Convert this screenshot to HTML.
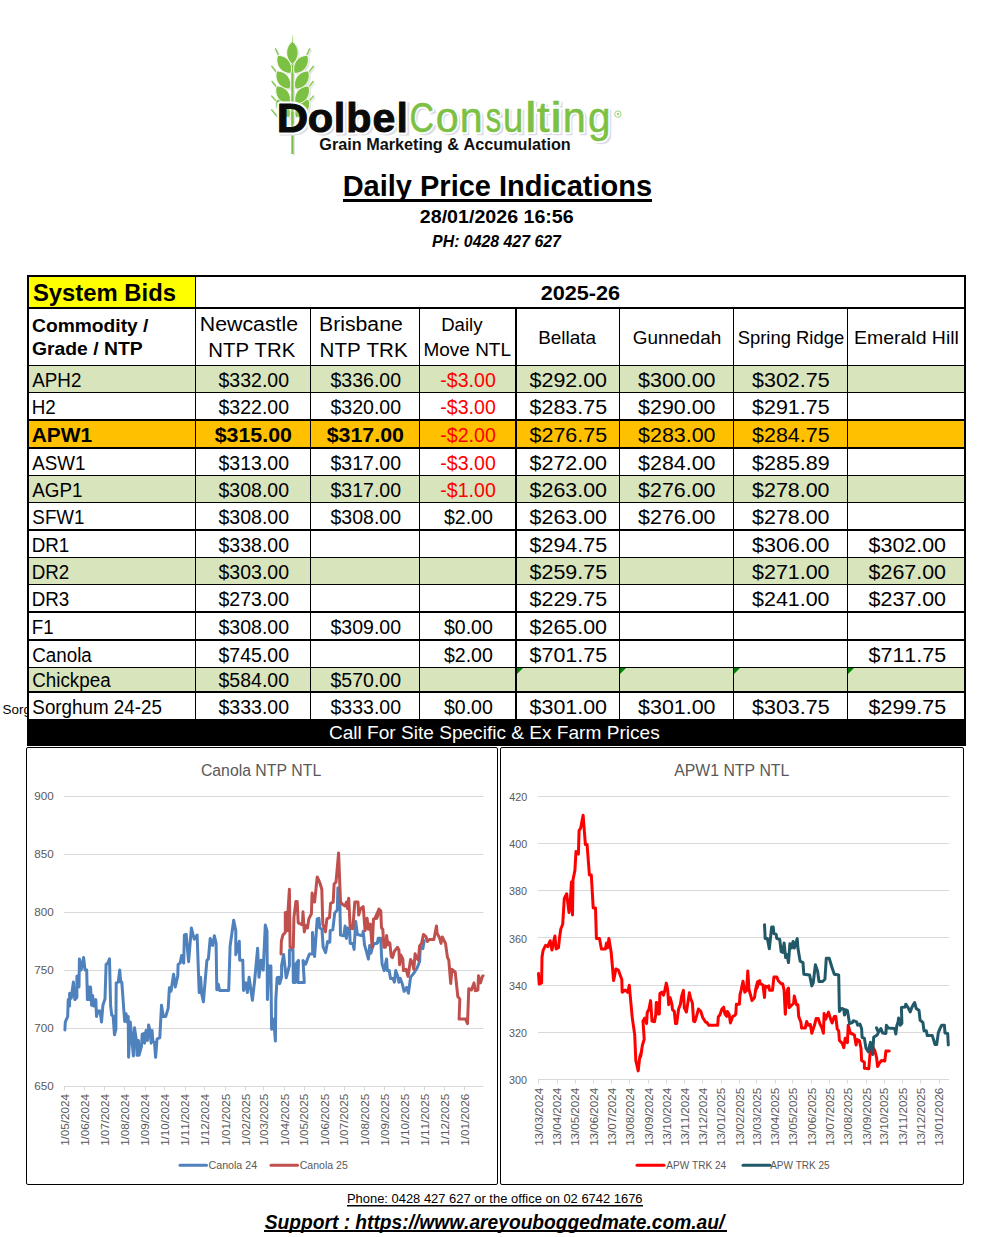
<!DOCTYPE html>
<html><head><meta charset="utf-8"><title>Daily Price Indications</title>
<style>
html,body{margin:0;padding:0;background:#fff;width:996px;height:1237px;overflow:hidden}
svg text{font-family:"Liberation Sans",sans-serif;font-kerning:none}
</style></head><body>
<svg width="996" height="1237" viewBox="0 0 996 1237" style="position:absolute;left:0;top:0">
<rect x="0" y="0" width="996" height="1237" fill="#fff"/>
<g transform="translate(1.5 1.5)">
<rect x="291.3" y="58" width="2.2" height="96" fill="#e4e4e8"/>
<path d="M292.4 33.5 L293.2 46 L291.6 46 Z" fill="#e8e8ec"/>
<line x1="275.50" y1="48.90" x2="279.50" y2="57.50" stroke="#e8e8ec" stroke-width="1.6" stroke-linecap="round"/>
<line x1="309.70" y1="48.90" x2="305.70" y2="57.50" stroke="#e8e8ec" stroke-width="1.6" stroke-linecap="round"/>
<line x1="271.80" y1="66.30" x2="277.00" y2="73.00" stroke="#e8e8ec" stroke-width="1.6" stroke-linecap="round"/>
<line x1="313.40" y1="66.30" x2="308.20" y2="73.00" stroke="#e8e8ec" stroke-width="1.6" stroke-linecap="round"/>
<line x1="272.20" y1="81.50" x2="277.00" y2="88.00" stroke="#e8e8ec" stroke-width="1.6" stroke-linecap="round"/>
<line x1="313.00" y1="81.50" x2="308.20" y2="88.00" stroke="#e8e8ec" stroke-width="1.6" stroke-linecap="round"/>
<line x1="271.80" y1="96.20" x2="277.00" y2="102.00" stroke="#e8e8ec" stroke-width="1.6" stroke-linecap="round"/>
<line x1="313.40" y1="96.20" x2="308.20" y2="102.00" stroke="#e8e8ec" stroke-width="1.6" stroke-linecap="round"/>
<line x1="271.80" y1="109.90" x2="278.00" y2="117.50" stroke="#e8e8ec" stroke-width="1.6" stroke-linecap="round"/>
<line x1="313.40" y1="109.90" x2="307.20" y2="117.50" stroke="#e8e8ec" stroke-width="1.6" stroke-linecap="round"/>
<path d="M0 -11.25 C8.00 -5.62 8.00 5.62 0 11.25 C-8.00 5.62 -8.00 -5.62 0 -11.25Z" transform="translate(283.00 108.50) rotate(-36)" fill="#e4e4e8"/>
<path d="M0 -11.25 C8.00 -5.62 8.00 5.62 0 11.25 C-8.00 5.62 -8.00 -5.62 0 -11.25Z" transform="translate(302.20 108.50) rotate(36)" fill="#e4e4e8"/>
<path d="M0 -11.25 C8.00 -5.62 8.00 5.62 0 11.25 C-8.00 5.62 -8.00 -5.62 0 -11.25Z" transform="translate(283.10 95.00) rotate(-36)" fill="#e4e4e8"/>
<path d="M0 -11.25 C8.00 -5.62 8.00 5.62 0 11.25 C-8.00 5.62 -8.00 -5.62 0 -11.25Z" transform="translate(302.10 95.00) rotate(36)" fill="#e4e4e8"/>
<path d="M0 -11.25 C8.00 -5.62 8.00 5.62 0 11.25 C-8.00 5.62 -8.00 -5.62 0 -11.25Z" transform="translate(283.30 80.00) rotate(-36)" fill="#e4e4e8"/>
<path d="M0 -11.25 C8.00 -5.62 8.00 5.62 0 11.25 C-8.00 5.62 -8.00 -5.62 0 -11.25Z" transform="translate(301.90 80.00) rotate(36)" fill="#e4e4e8"/>
<path d="M0 -11.25 C8.00 -5.62 8.00 5.62 0 11.25 C-8.00 5.62 -8.00 -5.62 0 -11.25Z" transform="translate(284.20 64.40) rotate(-36)" fill="#e4e4e8"/>
<path d="M0 -11.25 C8.00 -5.62 8.00 5.62 0 11.25 C-8.00 5.62 -8.00 -5.62 0 -11.25Z" transform="translate(301.00 64.40) rotate(36)" fill="#e4e4e8"/>
<path d="M0 -11.50 C7.67 -5.75 7.67 5.75 0 11.50 C-7.67 5.75 -7.67 -5.75 0 -11.50Z" transform="translate(292.40 52.80) rotate(0)" fill="#e4e4e8"/>
</g>
<g transform="translate(0 0)">
<rect x="291.3" y="58" width="2.2" height="96" fill="#7CC143"/>
<path d="M292.4 33.5 L293.2 46 L291.6 46 Z" fill="#8fcb5c"/>
<line x1="275.50" y1="48.90" x2="279.50" y2="57.50" stroke="#8fcb5c" stroke-width="1.6" stroke-linecap="round"/>
<line x1="309.70" y1="48.90" x2="305.70" y2="57.50" stroke="#8fcb5c" stroke-width="1.6" stroke-linecap="round"/>
<line x1="271.80" y1="66.30" x2="277.00" y2="73.00" stroke="#8fcb5c" stroke-width="1.6" stroke-linecap="round"/>
<line x1="313.40" y1="66.30" x2="308.20" y2="73.00" stroke="#8fcb5c" stroke-width="1.6" stroke-linecap="round"/>
<line x1="272.20" y1="81.50" x2="277.00" y2="88.00" stroke="#8fcb5c" stroke-width="1.6" stroke-linecap="round"/>
<line x1="313.00" y1="81.50" x2="308.20" y2="88.00" stroke="#8fcb5c" stroke-width="1.6" stroke-linecap="round"/>
<line x1="271.80" y1="96.20" x2="277.00" y2="102.00" stroke="#8fcb5c" stroke-width="1.6" stroke-linecap="round"/>
<line x1="313.40" y1="96.20" x2="308.20" y2="102.00" stroke="#8fcb5c" stroke-width="1.6" stroke-linecap="round"/>
<line x1="271.80" y1="109.90" x2="278.00" y2="117.50" stroke="#8fcb5c" stroke-width="1.6" stroke-linecap="round"/>
<line x1="313.40" y1="109.90" x2="307.20" y2="117.50" stroke="#8fcb5c" stroke-width="1.6" stroke-linecap="round"/>
<path d="M0 -11.25 C8.00 -5.62 8.00 5.62 0 11.25 C-8.00 5.62 -8.00 -5.62 0 -11.25Z" transform="translate(283.00 108.50) rotate(-36)" fill="#7CC143" stroke="#f4faee" stroke-width="0.9"/>
<path d="M0 -11.25 C8.00 -5.62 8.00 5.62 0 11.25 C-8.00 5.62 -8.00 -5.62 0 -11.25Z" transform="translate(302.20 108.50) rotate(36)" fill="#7CC143" stroke="#f4faee" stroke-width="0.9"/>
<path d="M0 -11.25 C8.00 -5.62 8.00 5.62 0 11.25 C-8.00 5.62 -8.00 -5.62 0 -11.25Z" transform="translate(283.10 95.00) rotate(-36)" fill="#7CC143" stroke="#f4faee" stroke-width="0.9"/>
<path d="M0 -11.25 C8.00 -5.62 8.00 5.62 0 11.25 C-8.00 5.62 -8.00 -5.62 0 -11.25Z" transform="translate(302.10 95.00) rotate(36)" fill="#7CC143" stroke="#f4faee" stroke-width="0.9"/>
<path d="M0 -11.25 C8.00 -5.62 8.00 5.62 0 11.25 C-8.00 5.62 -8.00 -5.62 0 -11.25Z" transform="translate(283.30 80.00) rotate(-36)" fill="#7CC143" stroke="#f4faee" stroke-width="0.9"/>
<path d="M0 -11.25 C8.00 -5.62 8.00 5.62 0 11.25 C-8.00 5.62 -8.00 -5.62 0 -11.25Z" transform="translate(301.90 80.00) rotate(36)" fill="#7CC143" stroke="#f4faee" stroke-width="0.9"/>
<path d="M0 -11.25 C8.00 -5.62 8.00 5.62 0 11.25 C-8.00 5.62 -8.00 -5.62 0 -11.25Z" transform="translate(284.20 64.40) rotate(-36)" fill="#7CC143" stroke="#f4faee" stroke-width="0.9"/>
<path d="M0 -11.25 C8.00 -5.62 8.00 5.62 0 11.25 C-8.00 5.62 -8.00 -5.62 0 -11.25Z" transform="translate(301.00 64.40) rotate(36)" fill="#7CC143" stroke="#f4faee" stroke-width="0.9"/>
<path d="M0 -11.50 C7.67 -5.75 7.67 5.75 0 11.50 C-7.67 5.75 -7.67 -5.75 0 -11.50Z" transform="translate(292.40 52.80) rotate(0)" fill="#7CC143" stroke="#f4faee" stroke-width="0.9"/>
</g>
<text x="278.18" y="133.80" font-size="41" font-weight="bold" font-style="normal" fill="#dcdce2" textLength="32.62" lengthAdjust="spacingAndGlyphs" stroke="#dcdce2" stroke-width="3">D</text>
<text x="309.30" y="133.80" font-size="41" font-weight="bold" font-style="normal" fill="#dcdce2" textLength="26.60" lengthAdjust="spacingAndGlyphs" stroke="#dcdce2" stroke-width="3">o</text>
<text x="334.69" y="133.80" font-size="41" font-weight="bold" font-style="normal" fill="#dcdce2" textLength="13.57" lengthAdjust="spacingAndGlyphs" stroke="#dcdce2" stroke-width="3">l</text>
<text x="347.55" y="133.80" font-size="41" font-weight="bold" font-style="normal" fill="#dcdce2" textLength="26.43" lengthAdjust="spacingAndGlyphs" stroke="#dcdce2" stroke-width="3">b</text>
<text x="374.02" y="133.80" font-size="41" font-weight="bold" font-style="normal" fill="#dcdce2" textLength="23.95" lengthAdjust="spacingAndGlyphs" stroke="#dcdce2" stroke-width="3">e</text>
<text x="397.74" y="133.80" font-size="41" font-weight="bold" font-style="normal" fill="#dcdce2" textLength="12.96" lengthAdjust="spacingAndGlyphs" stroke="#dcdce2" stroke-width="3">l</text>
<text x="276.79" y="131.80" font-size="41" font-weight="bold" font-style="normal" fill="#fff" textLength="31.44" lengthAdjust="spacingAndGlyphs" stroke="#fff" stroke-width="5" stroke-linejoin="round">D</text>
<text x="307.87" y="131.80" font-size="41" font-weight="bold" font-style="normal" fill="#fff" textLength="25.46" lengthAdjust="spacingAndGlyphs" stroke="#fff" stroke-width="5" stroke-linejoin="round">o</text>
<text x="333.70" y="131.80" font-size="41" font-weight="bold" font-style="normal" fill="#fff" textLength="11.54" lengthAdjust="spacingAndGlyphs" stroke="#fff" stroke-width="5" stroke-linejoin="round">l</text>
<text x="346.18" y="131.80" font-size="41" font-weight="bold" font-style="normal" fill="#fff" textLength="25.21" lengthAdjust="spacingAndGlyphs" stroke="#fff" stroke-width="5" stroke-linejoin="round">b</text>
<text x="372.60" y="131.80" font-size="41" font-weight="bold" font-style="normal" fill="#fff" textLength="22.80" lengthAdjust="spacingAndGlyphs" stroke="#fff" stroke-width="5" stroke-linejoin="round">e</text>
<text x="396.75" y="131.80" font-size="41" font-weight="bold" font-style="normal" fill="#fff" textLength="10.93" lengthAdjust="spacingAndGlyphs" stroke="#fff" stroke-width="5" stroke-linejoin="round">l</text>
<clipPath id="dcounter"><rect x="286" y="107" width="14" height="20"/></clipPath>
<g clip-path="url(#dcounter)" opacity="0.85">
<g transform="translate(0 0)">
<rect x="291.3" y="58" width="2.2" height="96" fill="#7CC143"/>
<path d="M292.4 33.5 L293.2 46 L291.6 46 Z" fill="#8fcb5c"/>
<line x1="275.50" y1="48.90" x2="279.50" y2="57.50" stroke="#8fcb5c" stroke-width="1.6" stroke-linecap="round"/>
<line x1="309.70" y1="48.90" x2="305.70" y2="57.50" stroke="#8fcb5c" stroke-width="1.6" stroke-linecap="round"/>
<line x1="271.80" y1="66.30" x2="277.00" y2="73.00" stroke="#8fcb5c" stroke-width="1.6" stroke-linecap="round"/>
<line x1="313.40" y1="66.30" x2="308.20" y2="73.00" stroke="#8fcb5c" stroke-width="1.6" stroke-linecap="round"/>
<line x1="272.20" y1="81.50" x2="277.00" y2="88.00" stroke="#8fcb5c" stroke-width="1.6" stroke-linecap="round"/>
<line x1="313.00" y1="81.50" x2="308.20" y2="88.00" stroke="#8fcb5c" stroke-width="1.6" stroke-linecap="round"/>
<line x1="271.80" y1="96.20" x2="277.00" y2="102.00" stroke="#8fcb5c" stroke-width="1.6" stroke-linecap="round"/>
<line x1="313.40" y1="96.20" x2="308.20" y2="102.00" stroke="#8fcb5c" stroke-width="1.6" stroke-linecap="round"/>
<line x1="271.80" y1="109.90" x2="278.00" y2="117.50" stroke="#8fcb5c" stroke-width="1.6" stroke-linecap="round"/>
<line x1="313.40" y1="109.90" x2="307.20" y2="117.50" stroke="#8fcb5c" stroke-width="1.6" stroke-linecap="round"/>
<path d="M0 -11.25 C8.00 -5.62 8.00 5.62 0 11.25 C-8.00 5.62 -8.00 -5.62 0 -11.25Z" transform="translate(283.00 108.50) rotate(-36)" fill="#7CC143" stroke="#f4faee" stroke-width="0.9"/>
<path d="M0 -11.25 C8.00 -5.62 8.00 5.62 0 11.25 C-8.00 5.62 -8.00 -5.62 0 -11.25Z" transform="translate(302.20 108.50) rotate(36)" fill="#7CC143" stroke="#f4faee" stroke-width="0.9"/>
<path d="M0 -11.25 C8.00 -5.62 8.00 5.62 0 11.25 C-8.00 5.62 -8.00 -5.62 0 -11.25Z" transform="translate(283.10 95.00) rotate(-36)" fill="#7CC143" stroke="#f4faee" stroke-width="0.9"/>
<path d="M0 -11.25 C8.00 -5.62 8.00 5.62 0 11.25 C-8.00 5.62 -8.00 -5.62 0 -11.25Z" transform="translate(302.10 95.00) rotate(36)" fill="#7CC143" stroke="#f4faee" stroke-width="0.9"/>
<path d="M0 -11.25 C8.00 -5.62 8.00 5.62 0 11.25 C-8.00 5.62 -8.00 -5.62 0 -11.25Z" transform="translate(283.30 80.00) rotate(-36)" fill="#7CC143" stroke="#f4faee" stroke-width="0.9"/>
<path d="M0 -11.25 C8.00 -5.62 8.00 5.62 0 11.25 C-8.00 5.62 -8.00 -5.62 0 -11.25Z" transform="translate(301.90 80.00) rotate(36)" fill="#7CC143" stroke="#f4faee" stroke-width="0.9"/>
<path d="M0 -11.25 C8.00 -5.62 8.00 5.62 0 11.25 C-8.00 5.62 -8.00 -5.62 0 -11.25Z" transform="translate(284.20 64.40) rotate(-36)" fill="#7CC143" stroke="#f4faee" stroke-width="0.9"/>
<path d="M0 -11.25 C8.00 -5.62 8.00 5.62 0 11.25 C-8.00 5.62 -8.00 -5.62 0 -11.25Z" transform="translate(301.00 64.40) rotate(36)" fill="#7CC143" stroke="#f4faee" stroke-width="0.9"/>
<path d="M0 -11.50 C7.67 -5.75 7.67 5.75 0 11.50 C-7.67 5.75 -7.67 -5.75 0 -11.50Z" transform="translate(292.40 52.80) rotate(0)" fill="#7CC143" stroke="#f4faee" stroke-width="0.9"/>
</g>
</g>
<text x="276.79" y="131.80" font-size="41" font-weight="bold" font-style="normal" fill="#0a0a0a" textLength="31.44" lengthAdjust="spacingAndGlyphs" stroke="#0a0a0a" stroke-width="1" stroke-linejoin="round">D</text>
<text x="307.87" y="131.80" font-size="41" font-weight="bold" font-style="normal" fill="#0a0a0a" textLength="25.46" lengthAdjust="spacingAndGlyphs" stroke="#0a0a0a" stroke-width="1" stroke-linejoin="round">o</text>
<text x="333.70" y="131.80" font-size="41" font-weight="bold" font-style="normal" fill="#0a0a0a" textLength="11.54" lengthAdjust="spacingAndGlyphs" stroke="#0a0a0a" stroke-width="1" stroke-linejoin="round">l</text>
<text x="346.18" y="131.80" font-size="41" font-weight="bold" font-style="normal" fill="#0a0a0a" textLength="25.21" lengthAdjust="spacingAndGlyphs" stroke="#0a0a0a" stroke-width="1" stroke-linejoin="round">b</text>
<text x="372.60" y="131.80" font-size="41" font-weight="bold" font-style="normal" fill="#0a0a0a" textLength="22.80" lengthAdjust="spacingAndGlyphs" stroke="#0a0a0a" stroke-width="1" stroke-linejoin="round">e</text>
<text x="396.75" y="131.80" font-size="41" font-weight="bold" font-style="normal" fill="#0a0a0a" textLength="10.93" lengthAdjust="spacingAndGlyphs" stroke="#0a0a0a" stroke-width="1" stroke-linejoin="round">l</text>
<text x="411.23" y="134.00" font-size="42" font-weight="normal" font-style="normal" fill="#dcdce6" textLength="25.20" lengthAdjust="spacingAndGlyphs" stroke="#dcdce6" stroke-width="2.5">C</text>
<text x="437.31" y="134.00" font-size="42" font-weight="normal" font-style="normal" fill="#dcdce6" textLength="23.68" lengthAdjust="spacingAndGlyphs" stroke="#dcdce6" stroke-width="2.5">o</text>
<text x="461.37" y="134.00" font-size="42" font-weight="normal" font-style="normal" fill="#dcdce6" textLength="23.70" lengthAdjust="spacingAndGlyphs" stroke="#dcdce6" stroke-width="2.5">n</text>
<text x="487.40" y="134.00" font-size="42" font-weight="normal" font-style="normal" fill="#dcdce6" textLength="16.17" lengthAdjust="spacingAndGlyphs" stroke="#dcdce6" stroke-width="2.5">s</text>
<text x="504.54" y="134.00" font-size="42" font-weight="normal" font-style="normal" fill="#dcdce6" textLength="21.08" lengthAdjust="spacingAndGlyphs" stroke="#dcdce6" stroke-width="2.5">u</text>
<text x="525.96" y="134.00" font-size="42" font-weight="normal" font-style="normal" fill="#dcdce6" textLength="13.65" lengthAdjust="spacingAndGlyphs" stroke="#dcdce6" stroke-width="2.5">l</text>
<text x="538.47" y="134.00" font-size="42" font-weight="normal" font-style="normal" fill="#dcdce6" textLength="13.49" lengthAdjust="spacingAndGlyphs" stroke="#dcdce6" stroke-width="2.5">t</text>
<text x="551.19" y="134.00" font-size="42" font-weight="normal" font-style="normal" fill="#dcdce6" textLength="13.65" lengthAdjust="spacingAndGlyphs" stroke="#dcdce6" stroke-width="2.5">i</text>
<text x="564.35" y="134.00" font-size="42" font-weight="normal" font-style="normal" fill="#dcdce6" textLength="23.83" lengthAdjust="spacingAndGlyphs" stroke="#dcdce6" stroke-width="2.5">n</text>
<text x="589.54" y="134.00" font-size="42" font-weight="normal" font-style="normal" fill="#dcdce6" textLength="23.25" lengthAdjust="spacingAndGlyphs" stroke="#dcdce6" stroke-width="2.5">g</text>
<text x="409.58" y="132.00" font-size="42" font-weight="normal" font-style="normal" fill="#fff" textLength="24.52" lengthAdjust="spacingAndGlyphs" stroke="#fff" stroke-width="4" stroke-linejoin="round">C</text>
<text x="435.67" y="132.00" font-size="42" font-weight="normal" font-style="normal" fill="#fff" textLength="22.97" lengthAdjust="spacingAndGlyphs" stroke="#fff" stroke-width="4" stroke-linejoin="round">o</text>
<text x="459.76" y="132.00" font-size="42" font-weight="normal" font-style="normal" fill="#fff" textLength="22.91" lengthAdjust="spacingAndGlyphs" stroke="#fff" stroke-width="4" stroke-linejoin="round">n</text>
<text x="485.74" y="132.00" font-size="42" font-weight="normal" font-style="normal" fill="#fff" textLength="15.48" lengthAdjust="spacingAndGlyphs" stroke="#fff" stroke-width="4" stroke-linejoin="round">s</text>
<text x="502.93" y="132.00" font-size="42" font-weight="normal" font-style="normal" fill="#fff" textLength="20.29" lengthAdjust="spacingAndGlyphs" stroke="#fff" stroke-width="4" stroke-linejoin="round">u</text>
<text x="524.72" y="132.00" font-size="42" font-weight="normal" font-style="normal" fill="#fff" textLength="12.13" lengthAdjust="spacingAndGlyphs" stroke="#fff" stroke-width="4" stroke-linejoin="round">l</text>
<text x="536.80" y="132.00" font-size="42" font-weight="normal" font-style="normal" fill="#fff" textLength="12.84" lengthAdjust="spacingAndGlyphs" stroke="#fff" stroke-width="4" stroke-linejoin="round">t</text>
<text x="549.95" y="132.00" font-size="42" font-weight="normal" font-style="normal" fill="#fff" textLength="12.13" lengthAdjust="spacingAndGlyphs" stroke="#fff" stroke-width="4" stroke-linejoin="round">i</text>
<text x="562.75" y="132.00" font-size="42" font-weight="normal" font-style="normal" fill="#fff" textLength="23.04" lengthAdjust="spacingAndGlyphs" stroke="#fff" stroke-width="4" stroke-linejoin="round">n</text>
<text x="587.90" y="132.00" font-size="42" font-weight="normal" font-style="normal" fill="#fff" textLength="22.51" lengthAdjust="spacingAndGlyphs" stroke="#fff" stroke-width="4" stroke-linejoin="round">g</text>
<text x="409.58" y="132.00" font-size="42" font-weight="normal" font-style="normal" fill="#7CC143" textLength="24.52" lengthAdjust="spacingAndGlyphs" stroke="#7CC143" stroke-width="0.5" stroke-linejoin="round">C</text>
<text x="435.67" y="132.00" font-size="42" font-weight="normal" font-style="normal" fill="#7CC143" textLength="22.97" lengthAdjust="spacingAndGlyphs" stroke="#7CC143" stroke-width="0.5" stroke-linejoin="round">o</text>
<text x="459.76" y="132.00" font-size="42" font-weight="normal" font-style="normal" fill="#7CC143" textLength="22.91" lengthAdjust="spacingAndGlyphs" stroke="#7CC143" stroke-width="0.5" stroke-linejoin="round">n</text>
<text x="485.74" y="132.00" font-size="42" font-weight="normal" font-style="normal" fill="#7CC143" textLength="15.48" lengthAdjust="spacingAndGlyphs" stroke="#7CC143" stroke-width="0.5" stroke-linejoin="round">s</text>
<text x="502.93" y="132.00" font-size="42" font-weight="normal" font-style="normal" fill="#7CC143" textLength="20.29" lengthAdjust="spacingAndGlyphs" stroke="#7CC143" stroke-width="0.5" stroke-linejoin="round">u</text>
<text x="524.72" y="132.00" font-size="42" font-weight="normal" font-style="normal" fill="#7CC143" textLength="12.13" lengthAdjust="spacingAndGlyphs" stroke="#7CC143" stroke-width="0.5" stroke-linejoin="round">l</text>
<text x="536.80" y="132.00" font-size="42" font-weight="normal" font-style="normal" fill="#7CC143" textLength="12.84" lengthAdjust="spacingAndGlyphs" stroke="#7CC143" stroke-width="0.5" stroke-linejoin="round">t</text>
<text x="549.95" y="132.00" font-size="42" font-weight="normal" font-style="normal" fill="#7CC143" textLength="12.13" lengthAdjust="spacingAndGlyphs" stroke="#7CC143" stroke-width="0.5" stroke-linejoin="round">i</text>
<text x="562.75" y="132.00" font-size="42" font-weight="normal" font-style="normal" fill="#7CC143" textLength="23.04" lengthAdjust="spacingAndGlyphs" stroke="#7CC143" stroke-width="0.5" stroke-linejoin="round">n</text>
<text x="587.90" y="132.00" font-size="42" font-weight="normal" font-style="normal" fill="#7CC143" textLength="22.51" lengthAdjust="spacingAndGlyphs" stroke="#7CC143" stroke-width="0.5" stroke-linejoin="round">g</text>
<circle cx="617.9" cy="114.1" r="3.2" fill="none" stroke="#9fd27a" stroke-width="1"/>
<circle cx="617.9" cy="114.1" r="1.2" fill="#9fd27a"/>
<text x="319.33" y="150.30" font-size="16" font-weight="bold" font-style="normal" fill="#111" textLength="251.37" lengthAdjust="spacingAndGlyphs" >Grain Marketing &amp; Accumulation</text>
<text x="342.66" y="195.60" font-size="28.9" font-weight="bold" font-style="normal" fill="#000" textLength="309.43" lengthAdjust="spacingAndGlyphs" >Daily Price Indications</text>
<rect x="343" y="199" width="309" height="3" fill="#000"/>
<text x="419.82" y="223.00" font-size="19.2" font-weight="bold" font-style="normal" fill="#000" textLength="153.89" lengthAdjust="spacingAndGlyphs" >28/01/2026 16:56</text>
<text x="432.12" y="247.00" font-size="16.2" font-weight="bold" font-style="italic" fill="#000" textLength="128.76" lengthAdjust="spacingAndGlyphs" >PH: 0428 427 627</text>
<rect x="29" y="277" width="166" height="30" fill="#FFFF00"/>
<rect x="29" y="366" width="935" height="26" fill="#D8E4BC"/>
<rect x="29" y="421" width="935" height="26" fill="#FFC000"/>
<rect x="29" y="476" width="935" height="26" fill="#D8E4BC"/>
<rect x="29" y="558" width="935" height="26" fill="#D8E4BC"/>
<rect x="29" y="668" width="935" height="23" fill="#D8E4BC"/>
<path d="M517 668 L523 668 L517 674 Z" fill="#008000"/>
<path d="M620 668 L626 668 L620 674 Z" fill="#008000"/>
<path d="M734 668 L740 668 L734 674 Z" fill="#008000"/>
<path d="M848 668 L854 668 L848 674 Z" fill="#008000"/>
<rect x="27" y="275" width="939" height="2" fill="#000"/>
<rect x="27" y="307" width="939" height="2" fill="#000"/>
<rect x="27" y="365" width="939" height="1" fill="#000"/>
<rect x="27" y="392" width="939" height="1" fill="#000"/>
<rect x="27" y="419" width="939" height="2" fill="#000"/>
<rect x="27" y="447" width="939" height="2" fill="#000"/>
<rect x="27" y="475" width="939" height="1" fill="#000"/>
<rect x="27" y="502" width="939" height="1" fill="#000"/>
<rect x="27" y="529" width="939" height="2" fill="#000"/>
<rect x="27" y="557" width="939" height="1" fill="#000"/>
<rect x="27" y="584" width="939" height="1" fill="#000"/>
<rect x="27" y="611" width="939" height="2" fill="#000"/>
<rect x="27" y="639" width="939" height="2" fill="#000"/>
<rect x="27" y="667" width="939" height="1" fill="#000"/>
<rect x="27" y="691" width="939" height="2" fill="#000"/>
<rect x="27" y="275" width="2" height="444" fill="#000"/>
<rect x="195" y="277" width="1" height="442" fill="#000"/>
<rect x="310" y="309" width="1" height="410" fill="#000"/>
<rect x="419" y="309" width="1" height="410" fill="#000"/>
<rect x="515" y="309" width="2" height="410" fill="#000"/>
<rect x="619" y="309" width="1" height="410" fill="#000"/>
<rect x="733" y="309" width="1" height="410" fill="#000"/>
<rect x="847" y="309" width="1" height="410" fill="#000"/>
<rect x="964" y="275" width="2" height="444" fill="#000"/>
<rect x="27" y="719" width="939" height="27" fill="#000"/>
<text x="32.91" y="300.50" font-size="23" font-weight="bold" font-style="normal" fill="#000" textLength="143.06" lengthAdjust="spacingAndGlyphs" >System Bids</text>
<text x="540.65" y="299.50" font-size="20" font-weight="bold" font-style="normal" fill="#000" textLength="79.53" lengthAdjust="spacingAndGlyphs" >2025-26</text>
<text x="32.01" y="331.50" font-size="18" font-weight="bold" font-style="normal" fill="#000" textLength="116.48" lengthAdjust="spacingAndGlyphs" >Commodity /</text>
<text x="32.01" y="355.40" font-size="18" font-weight="bold" font-style="normal" fill="#000" textLength="110.65" lengthAdjust="spacingAndGlyphs" >Grade / NTP</text>
<text x="199.85" y="330.50" font-size="20" font-weight="normal" font-style="normal" fill="#000" textLength="98.29" lengthAdjust="spacingAndGlyphs" >Newcastle</text>
<text x="208.33" y="357.00" font-size="20" font-weight="normal" font-style="normal" fill="#000" textLength="86.89" lengthAdjust="spacingAndGlyphs" >NTP TRK</text>
<text x="319.06" y="330.50" font-size="20" font-weight="normal" font-style="normal" fill="#000" textLength="83.68" lengthAdjust="spacingAndGlyphs" >Brisbane</text>
<text x="319.61" y="357.00" font-size="20" font-weight="normal" font-style="normal" fill="#000" textLength="88.02" lengthAdjust="spacingAndGlyphs" >NTP TRK</text>
<text x="441.17" y="331.30" font-size="18" font-weight="normal" font-style="normal" fill="#000" textLength="41.36" lengthAdjust="spacingAndGlyphs" >Daily</text>
<text x="423.55" y="355.70" font-size="18" font-weight="normal" font-style="normal" fill="#000" textLength="87.38" lengthAdjust="spacingAndGlyphs" >Move NTL</text>
<text x="538.15" y="344.10" font-size="18.5" font-weight="normal" font-style="normal" fill="#000" textLength="57.95" lengthAdjust="spacingAndGlyphs" >Bellata</text>
<text x="632.75" y="344.10" font-size="18.5" font-weight="normal" font-style="normal" fill="#000" textLength="88.48" lengthAdjust="spacingAndGlyphs" >Gunnedah</text>
<text x="737.66" y="344.10" font-size="18.5" font-weight="normal" font-style="normal" fill="#000" textLength="106.56" lengthAdjust="spacingAndGlyphs" >Spring Ridge</text>
<text x="854.00" y="344.10" font-size="18.5" font-weight="normal" font-style="normal" fill="#000" textLength="104.90" lengthAdjust="spacingAndGlyphs" >Emerald Hill</text>
<text x="32.26" y="387.00" font-size="20" font-weight="normal" font-style="normal" fill="#000" textLength="49.11" lengthAdjust="spacingAndGlyphs" >APH2</text>
<text x="218.53" y="387.00" font-size="20" font-weight="normal" font-style="normal" fill="#000" textLength="70.49" lengthAdjust="spacingAndGlyphs" >$332.00</text>
<text x="330.53" y="387.00" font-size="20" font-weight="normal" font-style="normal" fill="#000" textLength="70.49" lengthAdjust="spacingAndGlyphs" >$336.00</text>
<text x="440.32" y="387.00" font-size="20" font-weight="normal" font-style="normal" fill="#FF0000" textLength="55.46" lengthAdjust="spacingAndGlyphs" >-$3.00</text>
<text x="529.57" y="386.50" font-size="20" font-weight="normal" font-style="normal" fill="#000" textLength="77.47" lengthAdjust="spacingAndGlyphs" >$292.00</text>
<text x="638.07" y="386.50" font-size="20" font-weight="normal" font-style="normal" fill="#000" textLength="77.47" lengthAdjust="spacingAndGlyphs" >$300.00</text>
<text x="752.07" y="386.50" font-size="20" font-weight="normal" font-style="normal" fill="#000" textLength="77.53" lengthAdjust="spacingAndGlyphs" >$302.75</text>
<text x="31.66" y="414.00" font-size="20" font-weight="normal" font-style="normal" fill="#000" textLength="24.03" lengthAdjust="spacingAndGlyphs" >H2</text>
<text x="218.53" y="414.00" font-size="20" font-weight="normal" font-style="normal" fill="#000" textLength="70.49" lengthAdjust="spacingAndGlyphs" >$322.00</text>
<text x="330.53" y="414.00" font-size="20" font-weight="normal" font-style="normal" fill="#000" textLength="70.49" lengthAdjust="spacingAndGlyphs" >$320.00</text>
<text x="440.32" y="414.00" font-size="20" font-weight="normal" font-style="normal" fill="#FF0000" textLength="55.46" lengthAdjust="spacingAndGlyphs" >-$3.00</text>
<text x="529.57" y="413.50" font-size="20" font-weight="normal" font-style="normal" fill="#000" textLength="77.53" lengthAdjust="spacingAndGlyphs" >$283.75</text>
<text x="638.07" y="413.50" font-size="20" font-weight="normal" font-style="normal" fill="#000" textLength="77.47" lengthAdjust="spacingAndGlyphs" >$290.00</text>
<text x="752.07" y="413.50" font-size="20" font-weight="normal" font-style="normal" fill="#000" textLength="77.53" lengthAdjust="spacingAndGlyphs" >$291.75</text>
<text x="31.78" y="442.00" font-size="20" font-weight="bold" font-style="normal" fill="#000" textLength="60.33" lengthAdjust="spacingAndGlyphs" >APW1</text>
<text x="214.66" y="442.00" font-size="20" font-weight="bold" font-style="normal" fill="#000" textLength="77.28" lengthAdjust="spacingAndGlyphs" >$315.00</text>
<text x="326.66" y="442.00" font-size="20" font-weight="bold" font-style="normal" fill="#000" textLength="77.28" lengthAdjust="spacingAndGlyphs" >$317.00</text>
<text x="440.32" y="442.00" font-size="20" font-weight="normal" font-style="normal" fill="#FF0000" textLength="55.46" lengthAdjust="spacingAndGlyphs" >-$2.00</text>
<text x="529.57" y="441.50" font-size="20" font-weight="normal" font-style="normal" fill="#000" textLength="77.53" lengthAdjust="spacingAndGlyphs" >$276.75</text>
<text x="638.07" y="441.50" font-size="20" font-weight="normal" font-style="normal" fill="#000" textLength="77.47" lengthAdjust="spacingAndGlyphs" >$283.00</text>
<text x="752.07" y="441.50" font-size="20" font-weight="normal" font-style="normal" fill="#000" textLength="77.53" lengthAdjust="spacingAndGlyphs" >$284.75</text>
<text x="32.26" y="470.00" font-size="20" font-weight="normal" font-style="normal" fill="#000" textLength="53.28" lengthAdjust="spacingAndGlyphs" >ASW1</text>
<text x="218.53" y="470.00" font-size="20" font-weight="normal" font-style="normal" fill="#000" textLength="70.49" lengthAdjust="spacingAndGlyphs" >$313.00</text>
<text x="330.53" y="470.00" font-size="20" font-weight="normal" font-style="normal" fill="#000" textLength="70.49" lengthAdjust="spacingAndGlyphs" >$317.00</text>
<text x="440.32" y="470.00" font-size="20" font-weight="normal" font-style="normal" fill="#FF0000" textLength="55.46" lengthAdjust="spacingAndGlyphs" >-$3.00</text>
<text x="529.57" y="469.50" font-size="20" font-weight="normal" font-style="normal" fill="#000" textLength="77.47" lengthAdjust="spacingAndGlyphs" >$272.00</text>
<text x="638.07" y="469.50" font-size="20" font-weight="normal" font-style="normal" fill="#000" textLength="77.47" lengthAdjust="spacingAndGlyphs" >$284.00</text>
<text x="752.07" y="469.50" font-size="20" font-weight="normal" font-style="normal" fill="#000" textLength="77.65" lengthAdjust="spacingAndGlyphs" >$285.89</text>
<text x="32.26" y="497.00" font-size="20" font-weight="normal" font-style="normal" fill="#000" textLength="50.16" lengthAdjust="spacingAndGlyphs" >AGP1</text>
<text x="218.53" y="497.00" font-size="20" font-weight="normal" font-style="normal" fill="#000" textLength="70.49" lengthAdjust="spacingAndGlyphs" >$308.00</text>
<text x="330.53" y="497.00" font-size="20" font-weight="normal" font-style="normal" fill="#000" textLength="70.49" lengthAdjust="spacingAndGlyphs" >$317.00</text>
<text x="440.32" y="497.00" font-size="20" font-weight="normal" font-style="normal" fill="#FF0000" textLength="55.46" lengthAdjust="spacingAndGlyphs" >-$1.00</text>
<text x="529.57" y="496.50" font-size="20" font-weight="normal" font-style="normal" fill="#000" textLength="77.47" lengthAdjust="spacingAndGlyphs" >$263.00</text>
<text x="638.07" y="496.50" font-size="20" font-weight="normal" font-style="normal" fill="#000" textLength="77.47" lengthAdjust="spacingAndGlyphs" >$276.00</text>
<text x="752.07" y="496.50" font-size="20" font-weight="normal" font-style="normal" fill="#000" textLength="77.47" lengthAdjust="spacingAndGlyphs" >$278.00</text>
<text x="32.35" y="524.00" font-size="20" font-weight="normal" font-style="normal" fill="#000" textLength="52.22" lengthAdjust="spacingAndGlyphs" >SFW1</text>
<text x="218.53" y="524.00" font-size="20" font-weight="normal" font-style="normal" fill="#000" textLength="70.49" lengthAdjust="spacingAndGlyphs" >$308.00</text>
<text x="330.53" y="524.00" font-size="20" font-weight="normal" font-style="normal" fill="#000" textLength="70.49" lengthAdjust="spacingAndGlyphs" >$308.00</text>
<text x="443.90" y="524.00" font-size="20" font-weight="normal" font-style="normal" fill="#000" textLength="48.95" lengthAdjust="spacingAndGlyphs" >$2.00</text>
<text x="529.57" y="523.50" font-size="20" font-weight="normal" font-style="normal" fill="#000" textLength="77.47" lengthAdjust="spacingAndGlyphs" >$263.00</text>
<text x="638.07" y="523.50" font-size="20" font-weight="normal" font-style="normal" fill="#000" textLength="77.47" lengthAdjust="spacingAndGlyphs" >$276.00</text>
<text x="752.07" y="523.50" font-size="20" font-weight="normal" font-style="normal" fill="#000" textLength="77.47" lengthAdjust="spacingAndGlyphs" >$278.00</text>
<text x="31.66" y="552.00" font-size="20" font-weight="normal" font-style="normal" fill="#000" textLength="37.61" lengthAdjust="spacingAndGlyphs" >DR1</text>
<text x="218.53" y="552.00" font-size="20" font-weight="normal" font-style="normal" fill="#000" textLength="70.49" lengthAdjust="spacingAndGlyphs" >$338.00</text>
<text x="529.57" y="551.50" font-size="20" font-weight="normal" font-style="normal" fill="#000" textLength="77.53" lengthAdjust="spacingAndGlyphs" >$294.75</text>
<text x="752.07" y="551.50" font-size="20" font-weight="normal" font-style="normal" fill="#000" textLength="77.47" lengthAdjust="spacingAndGlyphs" >$306.00</text>
<text x="868.57" y="551.50" font-size="20" font-weight="normal" font-style="normal" fill="#000" textLength="77.47" lengthAdjust="spacingAndGlyphs" >$302.00</text>
<text x="31.66" y="579.00" font-size="20" font-weight="normal" font-style="normal" fill="#000" textLength="37.61" lengthAdjust="spacingAndGlyphs" >DR2</text>
<text x="218.53" y="579.00" font-size="20" font-weight="normal" font-style="normal" fill="#000" textLength="70.49" lengthAdjust="spacingAndGlyphs" >$303.00</text>
<text x="529.57" y="578.50" font-size="20" font-weight="normal" font-style="normal" fill="#000" textLength="77.53" lengthAdjust="spacingAndGlyphs" >$259.75</text>
<text x="752.07" y="578.50" font-size="20" font-weight="normal" font-style="normal" fill="#000" textLength="77.47" lengthAdjust="spacingAndGlyphs" >$271.00</text>
<text x="868.57" y="578.50" font-size="20" font-weight="normal" font-style="normal" fill="#000" textLength="77.47" lengthAdjust="spacingAndGlyphs" >$267.00</text>
<text x="31.66" y="606.00" font-size="20" font-weight="normal" font-style="normal" fill="#000" textLength="37.61" lengthAdjust="spacingAndGlyphs" >DR3</text>
<text x="218.53" y="606.00" font-size="20" font-weight="normal" font-style="normal" fill="#000" textLength="70.49" lengthAdjust="spacingAndGlyphs" >$273.00</text>
<text x="529.57" y="605.50" font-size="20" font-weight="normal" font-style="normal" fill="#000" textLength="77.53" lengthAdjust="spacingAndGlyphs" >$229.75</text>
<text x="752.07" y="605.50" font-size="20" font-weight="normal" font-style="normal" fill="#000" textLength="77.47" lengthAdjust="spacingAndGlyphs" >$241.00</text>
<text x="868.57" y="605.50" font-size="20" font-weight="normal" font-style="normal" fill="#000" textLength="77.47" lengthAdjust="spacingAndGlyphs" >$237.00</text>
<text x="31.66" y="634.00" font-size="20" font-weight="normal" font-style="normal" fill="#000" textLength="21.94" lengthAdjust="spacingAndGlyphs" >F1</text>
<text x="218.53" y="634.00" font-size="20" font-weight="normal" font-style="normal" fill="#000" textLength="70.49" lengthAdjust="spacingAndGlyphs" >$308.00</text>
<text x="330.53" y="634.00" font-size="20" font-weight="normal" font-style="normal" fill="#000" textLength="70.49" lengthAdjust="spacingAndGlyphs" >$309.00</text>
<text x="443.90" y="634.00" font-size="20" font-weight="normal" font-style="normal" fill="#000" textLength="48.95" lengthAdjust="spacingAndGlyphs" >$0.00</text>
<text x="529.57" y="633.50" font-size="20" font-weight="normal" font-style="normal" fill="#000" textLength="77.47" lengthAdjust="spacingAndGlyphs" >$265.00</text>
<text x="32.25" y="662.00" font-size="20" font-weight="normal" font-style="normal" fill="#000" textLength="59.58" lengthAdjust="spacingAndGlyphs" >Canola</text>
<text x="218.53" y="662.00" font-size="20" font-weight="normal" font-style="normal" fill="#000" textLength="70.49" lengthAdjust="spacingAndGlyphs" >$745.00</text>
<text x="443.90" y="662.00" font-size="20" font-weight="normal" font-style="normal" fill="#000" textLength="48.95" lengthAdjust="spacingAndGlyphs" >$2.00</text>
<text x="529.57" y="661.50" font-size="20" font-weight="normal" font-style="normal" fill="#000" textLength="77.53" lengthAdjust="spacingAndGlyphs" >$701.75</text>
<text x="868.57" y="661.50" font-size="20" font-weight="normal" font-style="normal" fill="#000" textLength="77.53" lengthAdjust="spacingAndGlyphs" >$711.75</text>
<text x="32.25" y="686.50" font-size="20" font-weight="normal" font-style="normal" fill="#000" textLength="78.38" lengthAdjust="spacingAndGlyphs" >Chickpea</text>
<text x="218.53" y="686.50" font-size="20" font-weight="normal" font-style="normal" fill="#000" textLength="70.49" lengthAdjust="spacingAndGlyphs" >$584.00</text>
<text x="330.53" y="686.50" font-size="20" font-weight="normal" font-style="normal" fill="#000" textLength="70.49" lengthAdjust="spacingAndGlyphs" >$570.00</text>
<text x="32.35" y="714.00" font-size="20" font-weight="normal" font-style="normal" fill="#000" textLength="129.59" lengthAdjust="spacingAndGlyphs" >Sorghum 24-25</text>
<text x="218.53" y="714.00" font-size="20" font-weight="normal" font-style="normal" fill="#000" textLength="70.49" lengthAdjust="spacingAndGlyphs" >$333.00</text>
<text x="330.53" y="714.00" font-size="20" font-weight="normal" font-style="normal" fill="#000" textLength="70.49" lengthAdjust="spacingAndGlyphs" >$333.00</text>
<text x="443.90" y="714.00" font-size="20" font-weight="normal" font-style="normal" fill="#000" textLength="48.95" lengthAdjust="spacingAndGlyphs" >$0.00</text>
<text x="529.57" y="713.50" font-size="20" font-weight="normal" font-style="normal" fill="#000" textLength="77.47" lengthAdjust="spacingAndGlyphs" >$301.00</text>
<text x="638.07" y="713.50" font-size="20" font-weight="normal" font-style="normal" fill="#000" textLength="77.47" lengthAdjust="spacingAndGlyphs" >$301.00</text>
<text x="752.07" y="713.50" font-size="20" font-weight="normal" font-style="normal" fill="#000" textLength="77.53" lengthAdjust="spacingAndGlyphs" >$303.75</text>
<text x="868.57" y="713.50" font-size="20" font-weight="normal" font-style="normal" fill="#000" textLength="77.53" lengthAdjust="spacingAndGlyphs" >$299.75</text>
<text x="328.93" y="739.30" font-size="19" font-weight="normal" font-style="normal" fill="#fff" textLength="330.76" lengthAdjust="spacingAndGlyphs" >Call For Site Specific &amp; Ex Farm Prices</text>
<clipPath id="sorg"><rect x="0" y="690" width="27" height="40"/></clipPath>
<text x="2.59" y="713.90" font-size="12.5" font-weight="normal" font-style="normal" fill="#000" textLength="54.29" lengthAdjust="spacingAndGlyphs" clip-path="url(#sorg)">Sorghum</text>
<rect x="26.5" y="747.5" width="471" height="437" rx="1.5" fill="#fff" stroke="#000" stroke-width="1"/>
<rect x="500.5" y="747.5" width="463" height="437" rx="1.5" fill="#fff" stroke="#000" stroke-width="1"/>
<text x="200.90" y="775.80" font-size="16" font-weight="normal" font-style="normal" fill="#595959" textLength="120.33" lengthAdjust="spacingAndGlyphs" >Canola NTP NTL</text>
<line x1="64" y1="796.5" x2="483.5" y2="796.5" stroke="#D9D9D9" stroke-width="1"/>
<text x="34.25" y="800.40" font-size="11" font-weight="normal" font-style="normal" fill="#595959" textLength="19.45" lengthAdjust="spacingAndGlyphs" >900</text>
<line x1="64" y1="854.5" x2="483.5" y2="854.5" stroke="#D9D9D9" stroke-width="1"/>
<text x="34.29" y="858.40" font-size="11" font-weight="normal" font-style="normal" fill="#595959" textLength="19.45" lengthAdjust="spacingAndGlyphs" >850</text>
<line x1="64" y1="912.5" x2="483.5" y2="912.5" stroke="#D9D9D9" stroke-width="1"/>
<text x="34.29" y="916.40" font-size="11" font-weight="normal" font-style="normal" fill="#595959" textLength="19.45" lengthAdjust="spacingAndGlyphs" >800</text>
<line x1="64" y1="970.5" x2="483.5" y2="970.5" stroke="#D9D9D9" stroke-width="1"/>
<text x="34.20" y="974.40" font-size="11" font-weight="normal" font-style="normal" fill="#595959" textLength="19.45" lengthAdjust="spacingAndGlyphs" >750</text>
<line x1="64" y1="1028.5" x2="483.5" y2="1028.5" stroke="#D9D9D9" stroke-width="1"/>
<text x="34.20" y="1032.40" font-size="11" font-weight="normal" font-style="normal" fill="#595959" textLength="19.45" lengthAdjust="spacingAndGlyphs" >700</text>
<line x1="64" y1="1086.5" x2="483.5" y2="1086.5" stroke="#D9D9D9" stroke-width="1"/>
<text x="34.21" y="1090.40" font-size="11" font-weight="normal" font-style="normal" fill="#595959" textLength="19.45" lengthAdjust="spacingAndGlyphs" >650</text>
<line x1="64.5" y1="1086.5" x2="64.5" y2="1090.5" stroke="#D9D9D9" stroke-width="1"/>
<g transform="translate(68.80 1145) rotate(-90)">
<text x="-0.89" y="0.00" font-size="11" font-weight="normal" font-style="normal" fill="#595959" textLength="51.93" lengthAdjust="spacingAndGlyphs" >1/05/2024</text>
</g>
<line x1="84.5" y1="1086.5" x2="84.5" y2="1090.5" stroke="#D9D9D9" stroke-width="1"/>
<g transform="translate(89.13 1145) rotate(-90)">
<text x="-0.89" y="0.00" font-size="11" font-weight="normal" font-style="normal" fill="#595959" textLength="51.93" lengthAdjust="spacingAndGlyphs" >1/06/2024</text>
</g>
<line x1="104.5" y1="1086.5" x2="104.5" y2="1090.5" stroke="#D9D9D9" stroke-width="1"/>
<g transform="translate(108.81 1145) rotate(-90)">
<text x="-0.89" y="0.00" font-size="11" font-weight="normal" font-style="normal" fill="#595959" textLength="51.93" lengthAdjust="spacingAndGlyphs" >1/07/2024</text>
</g>
<line x1="124.5" y1="1086.5" x2="124.5" y2="1090.5" stroke="#D9D9D9" stroke-width="1"/>
<g transform="translate(129.14 1145) rotate(-90)">
<text x="-0.89" y="0.00" font-size="11" font-weight="normal" font-style="normal" fill="#595959" textLength="51.93" lengthAdjust="spacingAndGlyphs" >1/08/2024</text>
</g>
<line x1="145.5" y1="1086.5" x2="145.5" y2="1090.5" stroke="#D9D9D9" stroke-width="1"/>
<g transform="translate(149.48 1145) rotate(-90)">
<text x="-0.89" y="0.00" font-size="11" font-weight="normal" font-style="normal" fill="#595959" textLength="51.93" lengthAdjust="spacingAndGlyphs" >1/09/2024</text>
</g>
<line x1="164.5" y1="1086.5" x2="164.5" y2="1090.5" stroke="#D9D9D9" stroke-width="1"/>
<g transform="translate(169.15 1145) rotate(-90)">
<text x="-0.89" y="0.00" font-size="11" font-weight="normal" font-style="normal" fill="#595959" textLength="51.93" lengthAdjust="spacingAndGlyphs" >1/10/2024</text>
</g>
<line x1="185.5" y1="1086.5" x2="185.5" y2="1090.5" stroke="#D9D9D9" stroke-width="1"/>
<g transform="translate(189.49 1145) rotate(-90)">
<text x="-0.89" y="0.00" font-size="11" font-weight="normal" font-style="normal" fill="#595959" textLength="51.93" lengthAdjust="spacingAndGlyphs" >1/11/2024</text>
</g>
<line x1="204.5" y1="1086.5" x2="204.5" y2="1090.5" stroke="#D9D9D9" stroke-width="1"/>
<g transform="translate(209.16 1145) rotate(-90)">
<text x="-0.89" y="0.00" font-size="11" font-weight="normal" font-style="normal" fill="#595959" textLength="51.93" lengthAdjust="spacingAndGlyphs" >1/12/2024</text>
</g>
<line x1="225.5" y1="1086.5" x2="225.5" y2="1090.5" stroke="#D9D9D9" stroke-width="1"/>
<g transform="translate(229.50 1145) rotate(-90)">
<text x="-0.89" y="0.00" font-size="11" font-weight="normal" font-style="normal" fill="#595959" textLength="52.08" lengthAdjust="spacingAndGlyphs" >1/01/2025</text>
</g>
<line x1="245.5" y1="1086.5" x2="245.5" y2="1090.5" stroke="#D9D9D9" stroke-width="1"/>
<g transform="translate(249.83 1145) rotate(-90)">
<text x="-0.89" y="0.00" font-size="11" font-weight="normal" font-style="normal" fill="#595959" textLength="52.08" lengthAdjust="spacingAndGlyphs" >1/02/2025</text>
</g>
<line x1="263.5" y1="1086.5" x2="263.5" y2="1090.5" stroke="#D9D9D9" stroke-width="1"/>
<g transform="translate(268.19 1145) rotate(-90)">
<text x="-0.89" y="0.00" font-size="11" font-weight="normal" font-style="normal" fill="#595959" textLength="52.08" lengthAdjust="spacingAndGlyphs" >1/03/2025</text>
</g>
<line x1="284.5" y1="1086.5" x2="284.5" y2="1090.5" stroke="#D9D9D9" stroke-width="1"/>
<g transform="translate(288.53 1145) rotate(-90)">
<text x="-0.89" y="0.00" font-size="11" font-weight="normal" font-style="normal" fill="#595959" textLength="52.08" lengthAdjust="spacingAndGlyphs" >1/04/2025</text>
</g>
<line x1="304.5" y1="1086.5" x2="304.5" y2="1090.5" stroke="#D9D9D9" stroke-width="1"/>
<g transform="translate(308.20 1145) rotate(-90)">
<text x="-0.89" y="0.00" font-size="11" font-weight="normal" font-style="normal" fill="#595959" textLength="52.08" lengthAdjust="spacingAndGlyphs" >1/05/2025</text>
</g>
<line x1="324.5" y1="1086.5" x2="324.5" y2="1090.5" stroke="#D9D9D9" stroke-width="1"/>
<g transform="translate(328.54 1145) rotate(-90)">
<text x="-0.89" y="0.00" font-size="11" font-weight="normal" font-style="normal" fill="#595959" textLength="52.08" lengthAdjust="spacingAndGlyphs" >1/06/2025</text>
</g>
<line x1="344.5" y1="1086.5" x2="344.5" y2="1090.5" stroke="#D9D9D9" stroke-width="1"/>
<g transform="translate(348.21 1145) rotate(-90)">
<text x="-0.89" y="0.00" font-size="11" font-weight="normal" font-style="normal" fill="#595959" textLength="52.08" lengthAdjust="spacingAndGlyphs" >1/07/2025</text>
</g>
<line x1="364.5" y1="1086.5" x2="364.5" y2="1090.5" stroke="#D9D9D9" stroke-width="1"/>
<g transform="translate(368.55 1145) rotate(-90)">
<text x="-0.89" y="0.00" font-size="11" font-weight="normal" font-style="normal" fill="#595959" textLength="52.08" lengthAdjust="spacingAndGlyphs" >1/08/2025</text>
</g>
<line x1="384.5" y1="1086.5" x2="384.5" y2="1090.5" stroke="#D9D9D9" stroke-width="1"/>
<g transform="translate(388.88 1145) rotate(-90)">
<text x="-0.89" y="0.00" font-size="11" font-weight="normal" font-style="normal" fill="#595959" textLength="52.08" lengthAdjust="spacingAndGlyphs" >1/09/2025</text>
</g>
<line x1="404.5" y1="1086.5" x2="404.5" y2="1090.5" stroke="#D9D9D9" stroke-width="1"/>
<g transform="translate(408.56 1145) rotate(-90)">
<text x="-0.89" y="0.00" font-size="11" font-weight="normal" font-style="normal" fill="#595959" textLength="52.08" lengthAdjust="spacingAndGlyphs" >1/10/2025</text>
</g>
<line x1="424.5" y1="1086.5" x2="424.5" y2="1090.5" stroke="#D9D9D9" stroke-width="1"/>
<g transform="translate(428.89 1145) rotate(-90)">
<text x="-0.89" y="0.00" font-size="11" font-weight="normal" font-style="normal" fill="#595959" textLength="52.08" lengthAdjust="spacingAndGlyphs" >1/11/2025</text>
</g>
<line x1="444.5" y1="1086.5" x2="444.5" y2="1090.5" stroke="#D9D9D9" stroke-width="1"/>
<g transform="translate(448.57 1145) rotate(-90)">
<text x="-0.89" y="0.00" font-size="11" font-weight="normal" font-style="normal" fill="#595959" textLength="52.08" lengthAdjust="spacingAndGlyphs" >1/12/2025</text>
</g>
<line x1="464.5" y1="1086.5" x2="464.5" y2="1090.5" stroke="#D9D9D9" stroke-width="1"/>
<g transform="translate(468.90 1145) rotate(-90)">
<text x="-0.89" y="0.00" font-size="11" font-weight="normal" font-style="normal" fill="#595959" textLength="52.11" lengthAdjust="spacingAndGlyphs" >1/01/2026</text>
</g>
<line x1="180" y1="1165.3" x2="206.5" y2="1165.3" stroke="#4F81BD" stroke-width="3" stroke-linecap="round"/>
<text x="208.56" y="1169.00" font-size="11" font-weight="normal" font-style="normal" fill="#595959" textLength="48.55" lengthAdjust="spacingAndGlyphs" >Canola 24</text>
<line x1="271" y1="1165.3" x2="297.5" y2="1165.3" stroke="#C0504D" stroke-width="3" stroke-linecap="round"/>
<text x="299.76" y="1169.00" font-size="11" font-weight="normal" font-style="normal" fill="#595959" textLength="48.08" lengthAdjust="spacingAndGlyphs" >Canola 25</text>
<text x="674.27" y="775.80" font-size="16" font-weight="normal" font-style="normal" fill="#595959" textLength="115.06" lengthAdjust="spacingAndGlyphs" >APW1 NTP NTL</text>
<line x1="538" y1="796.5" x2="949" y2="796.5" stroke="#D9D9D9" stroke-width="1"/>
<text x="509.25" y="800.60" font-size="11" font-weight="normal" font-style="normal" fill="#595959" textLength="17.99" lengthAdjust="spacingAndGlyphs" >420</text>
<line x1="538" y1="843.5" x2="949" y2="843.5" stroke="#D9D9D9" stroke-width="1"/>
<text x="509.25" y="847.90" font-size="11" font-weight="normal" font-style="normal" fill="#595959" textLength="17.99" lengthAdjust="spacingAndGlyphs" >400</text>
<line x1="538" y1="890.5" x2="949" y2="890.5" stroke="#D9D9D9" stroke-width="1"/>
<text x="509.09" y="895.20" font-size="11" font-weight="normal" font-style="normal" fill="#595959" textLength="17.99" lengthAdjust="spacingAndGlyphs" >380</text>
<line x1="538" y1="937.5" x2="949" y2="937.5" stroke="#D9D9D9" stroke-width="1"/>
<text x="509.09" y="942.50" font-size="11" font-weight="normal" font-style="normal" fill="#595959" textLength="17.99" lengthAdjust="spacingAndGlyphs" >360</text>
<line x1="538" y1="985.5" x2="949" y2="985.5" stroke="#D9D9D9" stroke-width="1"/>
<text x="509.09" y="989.80" font-size="11" font-weight="normal" font-style="normal" fill="#595959" textLength="17.99" lengthAdjust="spacingAndGlyphs" >340</text>
<line x1="538" y1="1032.5" x2="949" y2="1032.5" stroke="#D9D9D9" stroke-width="1"/>
<text x="509.09" y="1037.10" font-size="11" font-weight="normal" font-style="normal" fill="#595959" textLength="17.99" lengthAdjust="spacingAndGlyphs" >320</text>
<line x1="538" y1="1079.5" x2="949" y2="1079.5" stroke="#D9D9D9" stroke-width="1"/>
<text x="509.09" y="1084.40" font-size="11" font-weight="normal" font-style="normal" fill="#595959" textLength="17.99" lengthAdjust="spacingAndGlyphs" >300</text>
<line x1="538.5" y1="1079.5" x2="538.5" y2="1083.5" stroke="#D9D9D9" stroke-width="1"/>
<g transform="translate(542.80 1145) rotate(-90)">
<text x="-0.88" y="0.00" font-size="11" font-weight="normal" font-style="normal" fill="#595959" textLength="58.02" lengthAdjust="spacingAndGlyphs" >13/03/2024</text>
</g>
<line x1="557.5" y1="1079.5" x2="557.5" y2="1083.5" stroke="#D9D9D9" stroke-width="1"/>
<g transform="translate(561.31 1145) rotate(-90)">
<text x="-0.88" y="0.00" font-size="11" font-weight="normal" font-style="normal" fill="#595959" textLength="58.02" lengthAdjust="spacingAndGlyphs" >13/04/2024</text>
</g>
<line x1="575.5" y1="1079.5" x2="575.5" y2="1083.5" stroke="#D9D9D9" stroke-width="1"/>
<g transform="translate(579.22 1145) rotate(-90)">
<text x="-0.88" y="0.00" font-size="11" font-weight="normal" font-style="normal" fill="#595959" textLength="58.02" lengthAdjust="spacingAndGlyphs" >13/05/2024</text>
</g>
<line x1="593.5" y1="1079.5" x2="593.5" y2="1083.5" stroke="#D9D9D9" stroke-width="1"/>
<g transform="translate(597.73 1145) rotate(-90)">
<text x="-0.88" y="0.00" font-size="11" font-weight="normal" font-style="normal" fill="#595959" textLength="58.02" lengthAdjust="spacingAndGlyphs" >13/06/2024</text>
</g>
<line x1="611.5" y1="1079.5" x2="611.5" y2="1083.5" stroke="#D9D9D9" stroke-width="1"/>
<g transform="translate(615.64 1145) rotate(-90)">
<text x="-0.88" y="0.00" font-size="11" font-weight="normal" font-style="normal" fill="#595959" textLength="58.02" lengthAdjust="spacingAndGlyphs" >13/07/2024</text>
</g>
<line x1="629.5" y1="1079.5" x2="629.5" y2="1083.5" stroke="#D9D9D9" stroke-width="1"/>
<g transform="translate(634.14 1145) rotate(-90)">
<text x="-0.88" y="0.00" font-size="11" font-weight="normal" font-style="normal" fill="#595959" textLength="58.02" lengthAdjust="spacingAndGlyphs" >13/08/2024</text>
</g>
<line x1="648.5" y1="1079.5" x2="648.5" y2="1083.5" stroke="#D9D9D9" stroke-width="1"/>
<g transform="translate(652.65 1145) rotate(-90)">
<text x="-0.88" y="0.00" font-size="11" font-weight="normal" font-style="normal" fill="#595959" textLength="58.02" lengthAdjust="spacingAndGlyphs" >13/09/2024</text>
</g>
<line x1="666.5" y1="1079.5" x2="666.5" y2="1083.5" stroke="#D9D9D9" stroke-width="1"/>
<g transform="translate(670.56 1145) rotate(-90)">
<text x="-0.88" y="0.00" font-size="11" font-weight="normal" font-style="normal" fill="#595959" textLength="58.02" lengthAdjust="spacingAndGlyphs" >13/10/2024</text>
</g>
<line x1="684.5" y1="1079.5" x2="684.5" y2="1083.5" stroke="#D9D9D9" stroke-width="1"/>
<g transform="translate(689.07 1145) rotate(-90)">
<text x="-0.88" y="0.00" font-size="11" font-weight="normal" font-style="normal" fill="#595959" textLength="58.02" lengthAdjust="spacingAndGlyphs" >13/11/2024</text>
</g>
<line x1="702.5" y1="1079.5" x2="702.5" y2="1083.5" stroke="#D9D9D9" stroke-width="1"/>
<g transform="translate(706.98 1145) rotate(-90)">
<text x="-0.88" y="0.00" font-size="11" font-weight="normal" font-style="normal" fill="#595959" textLength="58.02" lengthAdjust="spacingAndGlyphs" >13/12/2024</text>
</g>
<line x1="721.5" y1="1079.5" x2="721.5" y2="1083.5" stroke="#D9D9D9" stroke-width="1"/>
<g transform="translate(725.49 1145) rotate(-90)">
<text x="-0.89" y="0.00" font-size="11" font-weight="normal" font-style="normal" fill="#595959" textLength="58.17" lengthAdjust="spacingAndGlyphs" >13/01/2025</text>
</g>
<line x1="739.5" y1="1079.5" x2="739.5" y2="1083.5" stroke="#D9D9D9" stroke-width="1"/>
<g transform="translate(744.00 1145) rotate(-90)">
<text x="-0.89" y="0.00" font-size="11" font-weight="normal" font-style="normal" fill="#595959" textLength="58.17" lengthAdjust="spacingAndGlyphs" >13/02/2025</text>
</g>
<line x1="756.5" y1="1079.5" x2="756.5" y2="1083.5" stroke="#D9D9D9" stroke-width="1"/>
<g transform="translate(760.71 1145) rotate(-90)">
<text x="-0.89" y="0.00" font-size="11" font-weight="normal" font-style="normal" fill="#595959" textLength="58.17" lengthAdjust="spacingAndGlyphs" >13/03/2025</text>
</g>
<line x1="775.5" y1="1079.5" x2="775.5" y2="1083.5" stroke="#D9D9D9" stroke-width="1"/>
<g transform="translate(779.22 1145) rotate(-90)">
<text x="-0.89" y="0.00" font-size="11" font-weight="normal" font-style="normal" fill="#595959" textLength="58.17" lengthAdjust="spacingAndGlyphs" >13/04/2025</text>
</g>
<line x1="792.5" y1="1079.5" x2="792.5" y2="1083.5" stroke="#D9D9D9" stroke-width="1"/>
<g transform="translate(797.13 1145) rotate(-90)">
<text x="-0.89" y="0.00" font-size="11" font-weight="normal" font-style="normal" fill="#595959" textLength="58.17" lengthAdjust="spacingAndGlyphs" >13/05/2025</text>
</g>
<line x1="811.5" y1="1079.5" x2="811.5" y2="1083.5" stroke="#D9D9D9" stroke-width="1"/>
<g transform="translate(815.64 1145) rotate(-90)">
<text x="-0.89" y="0.00" font-size="11" font-weight="normal" font-style="normal" fill="#595959" textLength="58.17" lengthAdjust="spacingAndGlyphs" >13/06/2025</text>
</g>
<line x1="829.5" y1="1079.5" x2="829.5" y2="1083.5" stroke="#D9D9D9" stroke-width="1"/>
<g transform="translate(833.55 1145) rotate(-90)">
<text x="-0.89" y="0.00" font-size="11" font-weight="normal" font-style="normal" fill="#595959" textLength="58.17" lengthAdjust="spacingAndGlyphs" >13/07/2025</text>
</g>
<line x1="847.5" y1="1079.5" x2="847.5" y2="1083.5" stroke="#D9D9D9" stroke-width="1"/>
<g transform="translate(852.06 1145) rotate(-90)">
<text x="-0.89" y="0.00" font-size="11" font-weight="normal" font-style="normal" fill="#595959" textLength="58.17" lengthAdjust="spacingAndGlyphs" >13/08/2025</text>
</g>
<line x1="866.5" y1="1079.5" x2="866.5" y2="1083.5" stroke="#D9D9D9" stroke-width="1"/>
<g transform="translate(870.56 1145) rotate(-90)">
<text x="-0.89" y="0.00" font-size="11" font-weight="normal" font-style="normal" fill="#595959" textLength="58.17" lengthAdjust="spacingAndGlyphs" >13/09/2025</text>
</g>
<line x1="884.5" y1="1079.5" x2="884.5" y2="1083.5" stroke="#D9D9D9" stroke-width="1"/>
<g transform="translate(888.47 1145) rotate(-90)">
<text x="-0.89" y="0.00" font-size="11" font-weight="normal" font-style="normal" fill="#595959" textLength="58.17" lengthAdjust="spacingAndGlyphs" >13/10/2025</text>
</g>
<line x1="902.5" y1="1079.5" x2="902.5" y2="1083.5" stroke="#D9D9D9" stroke-width="1"/>
<g transform="translate(906.98 1145) rotate(-90)">
<text x="-0.89" y="0.00" font-size="11" font-weight="normal" font-style="normal" fill="#595959" textLength="58.17" lengthAdjust="spacingAndGlyphs" >13/11/2025</text>
</g>
<line x1="920.5" y1="1079.5" x2="920.5" y2="1083.5" stroke="#D9D9D9" stroke-width="1"/>
<g transform="translate(924.89 1145) rotate(-90)">
<text x="-0.89" y="0.00" font-size="11" font-weight="normal" font-style="normal" fill="#595959" textLength="58.17" lengthAdjust="spacingAndGlyphs" >13/12/2025</text>
</g>
<line x1="939.5" y1="1079.5" x2="939.5" y2="1083.5" stroke="#D9D9D9" stroke-width="1"/>
<g transform="translate(943.40 1145) rotate(-90)">
<text x="-0.89" y="0.00" font-size="11" font-weight="normal" font-style="normal" fill="#595959" textLength="58.20" lengthAdjust="spacingAndGlyphs" >13/01/2026</text>
</g>
<line x1="637" y1="1165.3" x2="664" y2="1165.3" stroke="#FF0000" stroke-width="3" stroke-linecap="round"/>
<line x1="743" y1="1165.3" x2="770" y2="1165.3" stroke="#215968" stroke-width="3" stroke-linecap="round"/>
<clipPath id="clipL"><rect x="27" y="748" width="470" height="436"/></clipPath>
<clipPath id="clipR"><rect x="501" y="748" width="462" height="436"/></clipPath>
<g clip-path="url(#clipL)">
<polyline points="64.9,1029.9 65.3,1022.1 67.7,1016.5 68.2,999.6 69.6,1006.0 69.6,993.3 71.2,998.2 73.4,982.1 74.8,999.6 76.9,997.5 76.9,976.4 78.3,975.7 79.0,987.0 79.4,958.9 81.1,970.1 83.6,957.5 85.0,970.1 86.7,970.1 87.4,999.6 88.8,987.0 89.5,999.6 90.6,987.0 91.6,1005.3 92.6,995.4 93.7,1006.0 95.8,999.6 96.5,1016.5 98.0,1010.9 100.1,1010.9 101.5,1022.1 102.9,1005.3 105.0,998.9 106.1,964.5 107.8,963.1 109.5,958.9 110.6,1005.3 111.7,1015.1 113.1,1015.8 114.5,1034.8 115.9,1029.2 116.2,982.8 118.3,982.1 119.7,970.1 120.7,982.1 121.8,982.1 124.0,1012.3 124.7,1021.4 126.1,1013.7 127.2,1022.1 128.2,1016.5 128.6,1057.3 130.3,1022.1 133.4,1055.9 134.5,1027.8 136.6,1041.8 137.0,1055.2 138.4,1040.4 139.1,1055.2 141.5,1046.0 142.2,1034.1 144.3,1033.4 144.6,1043.2 146.0,1030.6 147.4,1040.4 148.6,1024.9 150.0,1030.6 151.1,1043.2 152.1,1030.6 152.8,1041.1 154.5,1042.5 155.6,1057.3 157.0,1039.0 159.8,1037.6 161.5,1005.3 163.3,1016.5 165.7,1016.5 168.2,1008.1 169.4,987.7 171.0,991.2 173.6,974.3 175.3,987.0 177.8,975.7 178.1,964.5 180.2,963.1 181.6,955.4 183.7,963.1 184.4,935.0 186.2,934.3 188.6,961.7 191.4,928.0 194.2,939.2 197.1,935.0 199.2,992.6 199.2,992.6 200.6,977.2 201.7,994.0 203.4,1001.8 206.9,960.3 208.4,958.9 210.2,938.5 212.6,945.5 214.4,935.7 216.1,943.4 216.8,989.8 218.2,984.2 219.6,990.5 228.7,990.5 230.1,946.2 233.7,920.2 235.8,930.8 235.8,954.7 239.3,941.3 239.7,960.3 242.8,960.3 243.5,990.5 245.6,982.8 247.4,992.6 249.1,977.2 252.4,1000.3 254.7,980.0 257.6,948.3 259.0,977.2 261.1,960.3 263.2,970.1 265.3,925.1 267.0,930.8 267.4,999.6 268.8,965.9 270.9,965.9 271.6,1029.2 273.7,1019.3 275.4,1041.1 275.8,1000.1 277.1,977.8 279.1,977.2 279.7,983.7 281.6,977.2 281.6,965.5 283.6,954.5 286.2,977.8 289.4,965.5 289.4,950.0 293.0,950.0 293.3,982.4 295.2,982.4 295.9,964.2 298.5,960.4 297.8,982.4 304.3,982.4 303.0,960.4 305.6,964.2 307.5,959.1 309.5,953.9 312.7,953.9 312.4,932.5 314.6,956.5 317.2,918.9 318.9,918.3 319.8,928.0 322.0,929.3 323.1,946.8 325.6,952.6 327.6,941.6 329.8,942.2 330.2,930.6 332.8,929.9 334.7,913.1 337.3,909.9 337.9,887.9 339.9,904.7 340.5,935.1 343.8,935.8 345.1,926.1 346.4,938.4 347.6,928.0 349.6,929.3 350.2,943.5 352.8,943.5 354.1,949.4 355.7,921.5 357.4,934.5 362.5,935.8 363.2,931.2 364.5,944.8 366.4,951.3 368.4,959.1 369.7,945.5 370.9,953.2 372.2,948.1 374.2,943.5 376.8,943.5 378.7,938.4 377.6,942.8 378.2,938.2 380.8,938.2 381.5,955.1 382.1,964.1 384.1,970.6 386.0,961.5 386.6,958.9 387.3,970.6 389.2,970.6 390.5,978.4 393.1,978.4 394.4,982.2 395.7,970.6 397.6,975.8 398.9,982.2 400.2,978.4 402.2,983.5 404.1,991.3 406.7,987.4 408.4,993.2 410.6,977.1 413.8,973.2 417.1,968.0 419.6,961.5 420.3,947.3 422.9,948.6 424.2,940.8" fill="none" stroke="#4F81BD" stroke-width="3" stroke-linejoin="round" stroke-linecap="round"/>
<polyline points="281.0,953.9 281.4,940.9 282.9,935.1 285.3,932.5 285.3,912.5 286.6,912.5 287.5,930.6 288.1,909.9 289.4,889.2 290.1,947.4 293.3,947.4 293.9,917.6 295.9,901.5 297.2,901.5 298.2,922.8 302.4,924.8 303.0,911.8 304.3,931.9 305.6,925.4 307.5,928.0 308.8,918.9 311.4,913.8 312.1,893.1 314.6,902.1 317.2,876.9 319.8,882.7 321.8,889.2 322.8,924.1 325.4,931.9 326.9,918.9 329.5,917.6 330.6,903.4 333.2,902.1 334.1,884.0 336.0,882.1 338.6,852.9 340.5,902.1 343.1,904.7 345.1,906.0 346.4,902.1 347.6,908.6 348.7,898.2 350.2,928.0 352.8,928.7 354.8,902.1 358.0,902.1 358.7,915.1 360.6,908.6 363.2,906.6 365.1,930.6 367.1,918.3 368.4,929.3 370.3,924.1 372.2,947.4 373.5,918.9 376.8,918.3 378.7,909.9 375.0,918.2 377.6,916.2 378.9,909.1 380.8,911.1 381.5,927.9 382.8,929.2 383.4,939.5 384.1,947.3 385.4,947.3 386.6,935.6 387.9,944.7 388.6,942.1 389.9,943.4 391.2,956.4 392.5,957.6 394.4,951.2 397.6,947.3 398.9,949.9 399.6,964.8 400.9,955.1 402.8,958.9 403.5,970.6 406.1,969.3 408.0,976.4 410.6,959.6 412.5,962.8 413.8,969.3 415.1,953.8 416.4,957.6 418.4,960.2 419.6,946.0 421.6,943.4 423.5,934.4 426.1,936.9 427.4,941.5 429.4,939.5 433.9,939.5 436.5,925.9 437.1,933.1 439.7,938.2 441.0,943.4 442.3,936.9 445.5,943.4 447.5,957.6 448.8,960.2 450.7,983.5 452.0,969.3 455.2,971.9 457.8,996.5 459.8,999.1 459.1,1019.1 465.6,1019.1 467.5,1023.7 468.8,988.7 471.4,990.0 474.0,982.9 475.3,990.7 477.9,990.0 478.5,975.8 480.5,982.9 482.4,976.4 483.1,975.8" fill="none" stroke="#C0504D" stroke-width="3" stroke-linejoin="round" stroke-linecap="round"/>
</g>
<g clip-path="url(#clipR)">
<polyline points="538.5,973.5 539.2,984.1 541.6,982.9 542.0,957.1 543.2,950.1 545.6,945.4 547.9,946.6 549.1,943.1 550.2,940.7 551.9,950.1 553.8,940.7 554.9,936.0 556.1,948.9 558.5,947.7 559.6,937.2 560.8,929.0 562.7,924.3 564.3,898.5 566.7,893.8 569.0,912.6 570.2,903.2 571.4,882.1 572.5,914.9 573.0,879.7 574.9,870.4 576.0,851.6 578.4,853.9 579.1,830.5 580.7,828.1 583.1,815.2 585.4,844.6 587.1,844.6 589.4,875.0 591.3,875.0 593.2,907.9 595.5,907.9 596.4,938.4 599.5,938.4 601.4,948.9 605.4,948.9 606.5,943.1 607.7,947.7 608.9,938.4 611.2,952.4 613.6,980.6 615.9,968.9 618.3,970.0 621.8,979.4 622.2,992.3 625.3,990.0 627.6,992.3 629.3,985.3 631.2,1006.4 632.3,1018.1 634.7,1034.5 635.8,1060.3 638.2,1070.9 639.8,1056.8 641.7,1050.9 640.6,1056.6 642.4,1045.2 644.2,1039.2 643.0,1021.1 644.8,1018.1 646.6,1023.5 647.2,1012.7 649.0,1009.0 650.6,1000.6 652.0,1021.1 654.5,1021.7 655.7,1015.1 656.3,1002.4 657.5,1003.0 658.1,1013.9 659.3,1013.9 659.9,993.4 661.7,992.2 663.5,995.2 664.7,991.0 666.3,983.1 667.7,989.8 668.7,1004.8 670.1,997.6 671.9,1004.2 672.5,1009.6 674.3,1011.4 675.5,1023.5 676.7,1023.5 678.6,1009.0 680.4,1004.2 681.6,996.4 683.4,990.4 684.3,1007.8 686.4,1012.0 689.4,992.8 690.6,998.2 692.4,1003.0 693.6,1021.1 694.8,1021.7 697.2,1013.9 698.4,1009.0 700.8,1011.4 702.7,1017.5 705.7,1022.3 706.9,1022.3 708.7,1025.3 717.7,1025.3 718.3,1016.9 720.1,1014.5 721.9,1009.0 723.7,1007.2 724.9,1013.9 726.7,1016.3 727.3,1011.4 729.2,1014.5 730.4,1022.9 732.8,1016.3 734.6,1015.7 735.8,1013.9 736.4,1004.2 739.4,1004.2 740.0,994.6 741.2,989.8 743.0,981.3 744.8,992.2 746.6,990.4 747.8,971.1 749.0,989.8 750.8,995.8 752.0,1000.6 754.5,997.6 755.7,989.2 757.5,981.9 759.9,980.7 756.5,988.8 758.6,981.5 760.8,983.7 763.0,985.2 764.5,997.5 765.2,985.9 767.4,987.3 768.8,985.9 769.6,990.2 772.5,990.2 773.9,977.1 776.8,977.1 778.3,980.8 781.2,983.7 782.7,983.7 784.1,990.2 785.3,1014.3 786.3,999.0 787.8,988.8 788.5,988.1 789.2,1007.7 792.1,1004.8 793.6,1003.3 794.3,996.1 796.5,1004.8 797.9,1004.8 798.7,1016.4 800.9,1022.3 801.6,1028.1 805.2,1028.1 806.7,1021.5 808.1,1025.2 810.3,1024.5 811.8,1033.2 814.7,1024.5 816.1,1018.6 818.3,1018.6 819.8,1023.7 822.0,1028.1 823.4,1033.2 824.1,1013.5 825.6,1019.4 828.5,1012.1 830.7,1019.4 832.1,1023.0 834.3,1016.4 835.8,1016.4 837.2,1028.8 838.7,1031.0 839.4,1040.5 842.3,1043.4 843.8,1047.7 845.2,1038.3 847.4,1042.6 848.2,1025.2 850.3,1033.2 851.8,1033.9 851.1,1032.9 854.4,1035.1 856.1,1045.0 857.2,1039.5 859.4,1040.6 861.0,1048.3 861.6,1060.5 864.4,1062.2 864.4,1068.2 868.8,1068.8 870.4,1049.5 872.1,1046.1 874.8,1050.6 876.5,1057.2 877.6,1066.6 879.3,1063.3 881.5,1060.5 884.8,1061.0 885.9,1051.1 889.2,1051.1" fill="none" stroke="#FF0000" stroke-width="3" stroke-linejoin="round" stroke-linecap="round"/>
<polyline points="764.5,924.7 765.2,938.6 767.4,938.6 769.3,948.8 771.7,926.9 773.2,926.9 773.9,933.5 776.1,934.2 776.8,938.6 779.7,939.3 781.2,951.7 782.7,952.4 784.1,942.9 785.6,957.5 787.0,954.6 788.5,962.6 789.9,943.7 791.4,948.0 793.1,941.5 794.3,948.0 797.2,938.6 797.9,948.0 800.1,961.1 803.0,962.6 803.8,974.2 809.6,975.0 811.8,985.9 813.2,983.0 815.4,964.8 817.6,971.3 819.0,981.5 822.7,981.5 824.9,979.3 826.3,958.2 829.2,958.2 832.1,967.7 834.3,974.2 838.7,975.0 839.4,1011.4 841.6,1008.4 843.8,1009.2 844.5,1015.0 846.0,1009.9 847.4,1010.6 849.6,1023.7 852.5,1022.3 852.2,1022.4 853.3,1020.7 856.6,1021.8 857.7,1025.2 859.9,1024.1 861.6,1028.5 862.1,1037.3 864.4,1038.4 866.0,1048.3 868.2,1051.7 870.4,1042.3 871.5,1047.2 872.6,1054.4 873.7,1037.3 877.1,1035.1 878.7,1031.8 876.5,1027.9 878.2,1031.8 879.8,1030.7 880.9,1028.5 882.6,1032.9 885.9,1033.4 886.4,1025.2 888.1,1027.9 894.7,1028.5 895.8,1034.0 896.9,1025.2 898.0,1022.4 898.6,1018.0 900.2,1025.2 901.9,1023.5 901.4,1007.5 905.2,1006.9 905.8,1004.2 908.0,1007.5 910.2,1011.9 911.8,1007.5 914.6,1002.5 916.3,1008.6 919.0,1010.2 920.1,1020.2 922.9,1022.4 924.0,1030.7 926.2,1030.7 927.3,1035.6 932.3,1035.6 935.0,1044.5 936.7,1044.5 938.3,1032.9 940.0,1028.5 941.7,1025.2 944.4,1025.2 945.0,1032.9 947.7,1033.4 948.3,1045.0" fill="none" stroke="#215968" stroke-width="3" stroke-linejoin="round" stroke-linecap="round"/>
</g>
<text x="666.28" y="1168.80" font-size="11" font-weight="normal" font-style="normal" fill="#595959" textLength="59.91" lengthAdjust="spacingAndGlyphs" >APW TRK 24</text>
<text x="770.18" y="1168.80" font-size="11" font-weight="normal" font-style="normal" fill="#595959" textLength="59.44" lengthAdjust="spacingAndGlyphs" >APW TRK 25</text>
<text x="346.94" y="1202.70" font-size="13.5" font-weight="normal" font-style="normal" fill="#000" textLength="295.63" lengthAdjust="spacingAndGlyphs" >Phone: 0428 427 627 or the office on 02 6742 1676</text>
<rect x="347" y="1205" width="296" height="1.5" fill="#000"/>
<text x="264.77" y="1228.70" font-size="20" font-weight="bold" font-style="italic" fill="#000" textLength="459.55" lengthAdjust="spacingAndGlyphs" >Support : https://www.areyouboggedmate.com.au/</text>
<rect x="264" y="1230" width="463" height="2" fill="#000"/>
</svg>
</body></html>
